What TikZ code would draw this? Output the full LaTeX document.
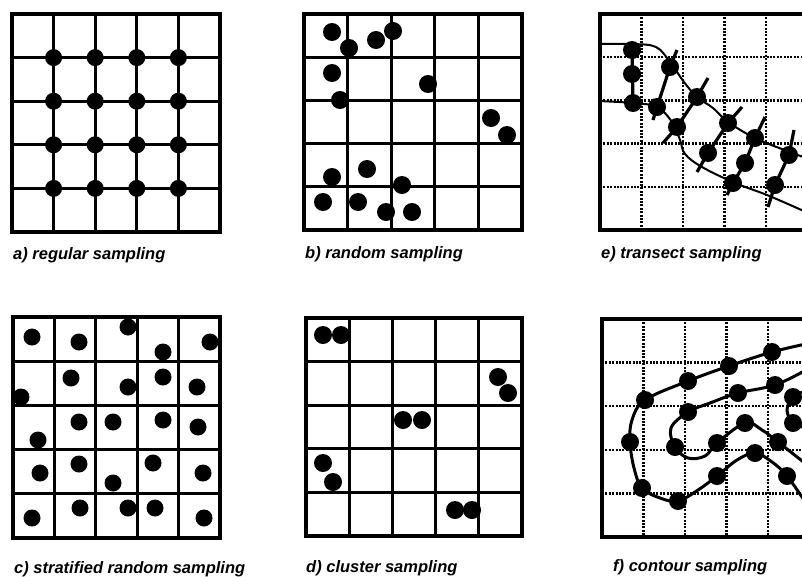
\documentclass[tikz,border=0pt]{standalone}
\usepackage{fontspec}
\usepackage{xcolor}
\usepackage{tikz}
\newfontfamily\captionfont{Liberation Sans}
\definecolor{ink}{HTML}{000000}
\tikzset{
  frame/.style={draw=ink,line width=3.4pt},
  cell/.style={draw=ink,line width=3pt},
  dotted cell/.style={draw=ink,line width=2.4pt,dash pattern=on 2pt off 1.4pt},
  sample/.style={circle,fill=ink,inner sep=0pt,minimum size=18pt},
  small sample/.style={circle,fill=ink,inner sep=0pt,minimum size=17pt},
  transect/.style={draw=ink,line width=3.2pt},
  boundary/.style={draw=ink,line width=2pt},
  contour/.style={draw=ink,line width=3pt},
  caption/.style={anchor=base west,inner sep=0pt,
    font=\captionfont\bfseries\itshape\fontsize{16.5}{18}\selectfont}
}
% 5x5 grid: #1 line style, (#2,#3) top left, (#4,#5) bottom right
\newcommand{\samplegrid}[5]{%
  \foreach \k in {1,...,4}{
    \draw[#1] ({#2+(#4-#2)*\k/5},#3) -- ({#2+(#4-#2)*\k/5},#5);
    \draw[#1] (#2,{#3+(#5-#3)*\k/5}) -- (#4,{#3+(#5-#3)*\k/5});
  }
  \draw[frame] (#2,#3) rectangle (#4,#5);
}

\begin{document}
\begin{tikzpicture}[x=1pt,y=-1pt]
  \useasboundingbox (0,0) rectangle (802,576);
  \clip (0,0) rectangle (802,576);

  % a) regular
  \samplegrid{cell}{12}{14}{220}{232}
  \foreach \i in {1,...,4}
    \foreach \j in {1,...,4}
      \node[small sample] (a-\i-\j) at ({12+41.6*\i},{14+43.6*\j}) {};
  \node[caption] (capa) at (13,259) {a) regular sampling};

  % b) random
  \samplegrid{cell}{304}{14}{522}{230}
  \foreach \p [count=\n] in {(332,32),(349,48),(376,40),(393,31),(332,73),(340,100),
      (428,84),(491,118),(507,135),(367,169),(332,177),(402,185),(323,202),
      (358,202),(386,212),(412,212)}
    \node[sample] (b\n) at \p {};
  \node[caption] (capb) at (305,258) {b) random sampling};

  % e) transect
  \samplegrid{dotted cell}{600}{14}{807.5}{230}
  \draw[boundary] plot[smooth,tension=0.6] coordinates {(598,44) (632,44) (656,47)
      (670,62) (684,82) (697,97) (713,108) (728,122) (755,138) (787,151) (806,158)};
  \draw[boundary] plot[smooth,tension=0.6] coordinates {(598,101) (633,103) (657,107)
      (672,122) (680,140) (685,154) (702,167) (735,183) (767,195) (806,212)};
  \foreach \p [count=\n] in {(632,50),(632,74),(633,103),(670,67),(657,107),
      (697,97),(677,127),(728,123),(708,153),(755,138),(745,163),(733,183),
      (789,155),(775,185)}
    \node[sample] (e\n) at \p {};
  \coordinate (t2a) at (677,50);  \coordinate (t2b) at (653,120);
  \coordinate (t3a) at (708,78);  \coordinate (t3b) at (663,143);
  \coordinate (t4a) at (742,107); \coordinate (t4b) at (697,172);
  \coordinate (t5a) at (765,117); \coordinate (t5b) at (727,195);
  \coordinate (t6a) at (794,130); \coordinate (t6b) at (768,207);
  \draw[transect] (e1.center) -- (e3.center);
  \draw[transect] (t2a) -- (e4.center) -- (e5.center) -- (t2b);
  \draw[transect] (t3a) -- (e6.center) -- (e7.center) -- (t3b);
  \draw[transect] (t4a) -- (e8.center) -- (e9.center) -- (t4b);
  \draw[transect] (t5a) -- (e10.center) -- (e11.center) -- (e12.center) -- (t5b);
  \draw[transect] (t6a) -- (e13.center) -- (e14.center) -- (t6b);
  \node[caption] (cape) at (601,258) {e) transect sampling};

  % c) stratified random
  \samplegrid{cell}{13}{317}{220}{538}
  \foreach \p [count=\n] in {(32,337),(79,342),(128,327),(163,352),(210,342),
      (21,397),(71,378),(128,387),(163,377),(197,387),
      (38,440),(79,422),(113,422),(163,420),(198,427),
      (40,473),(79,464),(113,483),(153,463),(203,473),
      (32,518),(80,508),(128,508),(155,508),(204,518)}
    \node[small sample] (c\n) at \p {};
  \node[caption] (capc) at (14,573) {c) stratified random sampling};

  % d) cluster
  \samplegrid{cell}{306}{318}{522}{536}
  \foreach \p [count=\n] in {(323,335),(341,335),(498,377),(508,393),(403,420),
      (422,420),(323,463),(333,482),(455,510),(472,510)}
    \node[sample] (d\n) at \p {};
  \node[caption] (capd) at (306,572) {d) cluster sampling};

  % f) contour
  \samplegrid{dotted cell}{602}{319}{809.5}{537}
  \foreach \p [count=\n] in {(772,352),(729,366),(688,381),(645,400),(630,442),
      (642,488),(678,501),(717,476),(755,453),(787,476),
      (775,385),(738,393),(688,412),(675,447),(717,443),(745,423),(778,442),
      (793,397),(793,423)}
    \node[sample] (f\n) at \p {};
  \draw[contour] plot[smooth,tension=0.6] coordinates {(806,344) (f1.center)
      (f2.center) (f3.center) (f4.center) (632,420) (f5.center) (634,468)
      (f6.center) (660,498) (f7.center) (698,490) (f8.center) (737,460)
      (f9.center) (772,462) (f10.center) (806,503)};
  \draw[contour] plot[smooth,tension=0.6] coordinates {(806,370) (f11.center)
      (f12.center) (710,403) (f13.center) (671,428) (f14.center) (688,458)
      (705,456) (f15.center) (f16.center) (762,430) (f17.center) (806,464)};
  \draw[contour] plot[smooth,tension=0.6] coordinates {(806,391) (f18.center)
      (787,410) (f19.center) (806,428)};
  \node[caption] (capf) at (613,571) {f) contour sampling};
\end{tikzpicture}
\end{document}
